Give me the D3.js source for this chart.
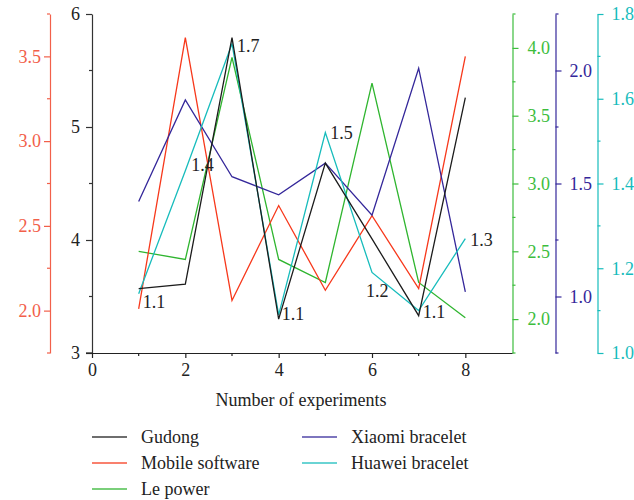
<!DOCTYPE html>
<html>
<head>
<meta charset="utf-8">
<script src="https://cdn.jsdelivr.net/npm/d3@7/dist/d3.min.js"></script>
<style>
  html, body { margin: 0; padding: 0; background: #fff; }
  svg { display: block; }
  svg text { font-family: "Liberation Serif", "DejaVu Serif", serif; }
</style>
</head>
<body>
<svg id="chart" width="634" height="500"></svg>
<script>
// Experiment index on the x axis
const experiments = [1, 2, 3, 4, 5, 6, 7, 8];

// One series per product, each read against its own y axis
const gudong         = [3.57, 3.61, 5.79, 3.30, 4.68, 4.01, 3.33, 5.26];
const mobileSoftware = [2.01, 3.61, 2.06, 2.62, 2.12, 2.56, 2.13, 3.50];
const lePower        = [2.50, 2.44, 3.93, 2.44, 2.27, 3.74, 2.27, 2.01];
const xiaomi         = [1.42, 1.87, 1.53, 1.45, 1.59, 1.36, 2.01, 1.02];
const huawei         = [1.14, 1.43, 1.73, 1.09, 1.52, 1.19, 1.10, 1.27];

// Axis tick values
const xTicks = [0, 2, 4, 6, 8];
const gudongTicks = [3, 4, 5, 6];
const mobileTicks = [2.0, 2.5, 3.0, 3.5];
const leTicks = [2.0, 2.5, 3.0, 3.5, 4.0];
const xiaomiTicks = [1.0, 1.5, 2.0];
const huaweiTicks = [1.0, 1.2, 1.4, 1.6, 1.8];

const seriesNames = ["Gudong", "Mobile software", "Le power", "Xiaomi bracelet", "Huawei bracelet"];

// Nudges for the value labels on the Huawei line: [dx, dy]
const labelNudge = [[4, 14], [6, 0], [5, 8], [3, 5], [5, 6], [-6, 25], [4, 7], [5, 7]];

const svg = d3.select("#chart");
const plotTop = 14, plotBottom = 353, plotLeft = 92, plotRight = 512;
const FONT = "'Liberation Serif', 'DejaVu Serif', serif";

const x = d3.scaleLinear().domain([0, 9]).range([plotLeft, plotRight]);

const C = {
  black: "#1c1c1c", red: "#f7381b", redAxis: "#f2604a",
  green: "#2fb52f", greenAxis: "#3dbd3d",
  purple: "#34279a", cyan: "#17bcbc"
};

const axes = [
  { name: "gudong", data: gudong,         domain: [3, 6],       ticks: gudongTicks, minor: 0.5,  fmt: d3.format("d"),   pos: plotLeft, side: "left",  pad: 6, color: C.black,  axisColor: "#333",      textColor: "#222" },
  { name: "mobile", data: mobileSoftware, domain: [1.75, 3.75], ticks: mobileTicks, minor: 0.25, fmt: d3.format(".1f"), pos: 50,       side: "left",  pad: 3, color: C.red,    axisColor: C.redAxis,   textColor: C.redAxis },
  { name: "le",     data: lePower,        domain: [1.75, 4.25], ticks: leTicks,     minor: 0.25, fmt: d3.format(".1f"), pos: 512.5,    side: "right", pad: 9, color: C.green,  axisColor: C.greenAxis, textColor: C.greenAxis },
  { name: "xiaomi", data: xiaomi,         domain: [0.75, 2.25], ticks: xiaomiTicks, minor: 0.25, fmt: d3.format(".1f"), pos: 555.5,    side: "right", pad: 8, color: C.purple, axisColor: C.purple,    textColor: C.purple },
  { name: "huawei", data: huawei,         domain: [1.0, 1.8],   ticks: huaweiTicks, minor: 0.1,  fmt: d3.format(".1f"), pos: 597.5,    side: "right", pad: 8, color: C.cyan,   axisColor: C.cyan,      textColor: C.cyan }
];

axes.forEach(a => { a.y = d3.scaleLinear().domain(a.domain).range([plotBottom, plotTop]); });

// Minor tick positions between the domain ends
function minorTicks(a) {
  const out = [];
  const n = Math.round((a.domain[1] - a.domain[0]) / a.minor);
  for (let i = 0; i <= n; i++) {
    const v = +(a.domain[0] + i * a.minor).toFixed(4);
    if (!a.ticks.some(t => Math.abs(t - v) < 1e-6)) out.push(v);
  }
  return out;
}

// Y axes
axes.forEach(a => {
  const g = svg.append("g").attr("transform", `translate(${a.pos},0)`);
  const axisFn = a.side === "left" ? d3.axisLeft(a.y) : d3.axisRight(a.y);
  g.call(axisFn.tickValues(a.ticks).tickFormat(a.fmt).tickSize(6).tickSizeOuter(0).tickPadding(a.pad));
  g.attr("font-family", FONT).attr("font-size", 18);
  g.select(".domain").attr("stroke", a.axisColor).attr("stroke-width", 1.2);
  g.selectAll(".tick line").attr("stroke", a.axisColor).attr("stroke-width", 1.2);
  g.selectAll(".tick text").attr("fill", a.textColor);
  const dir = a.side === "left" ? -1 : 1;
  g.selectAll(".minor").data(minorTicks(a)).enter().append("line")
    .attr("class", "minor")
    .attr("x1", 0).attr("x2", dir * 3)
    .attr("y1", d => a.y(d)).attr("y2", d => a.y(d))
    .attr("stroke", a.axisColor).attr("stroke-width", 1.2);
});

// X axis
const xg = svg.append("g").attr("transform", `translate(0,${plotBottom})`);
xg.call(d3.axisBottom(x).tickValues(xTicks).tickFormat(d3.format("d")).tickSize(5).tickSizeOuter(0).tickPadding(5));
xg.attr("font-family", FONT).attr("font-size", 18);
xg.select(".domain").attr("stroke", "#222").attr("stroke-width", 1.2);
xg.selectAll(".tick line").attr("stroke", "#222").attr("stroke-width", 1.2);
xg.selectAll(".tick text").attr("fill", "#222");
xg.selectAll(".xminor").data([1, 3, 5, 7]).enter().append("line")
  .attr("class", "xminor")
  .attr("x1", d => x(d)).attr("x2", d => x(d)).attr("y1", 0).attr("y2", 3)
  .attr("stroke", "#222").attr("stroke-width", 1.2);
// short run of the x axis line left of the "3" tick
svg.append("line").attr("x1", plotLeft - 6).attr("x2", plotLeft).attr("y1", plotBottom).attr("y2", plotBottom)
  .attr("stroke", "#222").attr("stroke-width", 1.2);

svg.append("text").attr("x", 301).attr("y", 406).attr("text-anchor", "middle")
  .attr("fill", "#222").attr("font-size", 18).text("Number of experiments");

// Series lines
const drawOrder = ["le", "mobile", "xiaomi", "huawei", "gudong"];
drawOrder.forEach(n => {
  const a = axes.find(d => d.name === n);
  const line = d3.line().x((d, i) => x(experiments[i])).y(d => a.y(d));
  svg.append("path").datum(a.data).attr("d", line)
    .attr("fill", "none").attr("stroke", a.color).attr("stroke-width", 1.3)
    .attr("stroke-linejoin", "miter");
});

// Value labels on the Huawei line
const hw = axes.find(d => d.name === "huawei");
svg.selectAll(".vlabel").data(huawei).enter().append("text")
  .attr("class", "vlabel")
  .attr("x", (d, i) => x(experiments[i]) + labelNudge[i][0])
  .attr("y", (d, i) => hw.y(d) + labelNudge[i][1])
  .attr("fill", "#222").attr("font-size", 18)
  .text(d => d3.format(".1f")(d));

// Legend
const legendColors = [C.black, C.red, C.green, C.purple, C.cyan];
const legendPos = [[92, 437], [92, 463], [92, 489], [302, 437], [302, 463]];
seriesNames.forEach((name, i) => {
  const [lx, ly] = legendPos[i];
  svg.append("line").attr("x1", lx).attr("x2", lx + 35).attr("y1", ly).attr("y2", ly)
    .attr("stroke", legendColors[i]).attr("stroke-width", 1.5).attr("opacity", 0.85);
  svg.append("text").attr("x", lx + 49).attr("y", ly + 6)
    .attr("fill", "#222").attr("font-size", 18).text(name);
});
</script>
</body>
</html>
